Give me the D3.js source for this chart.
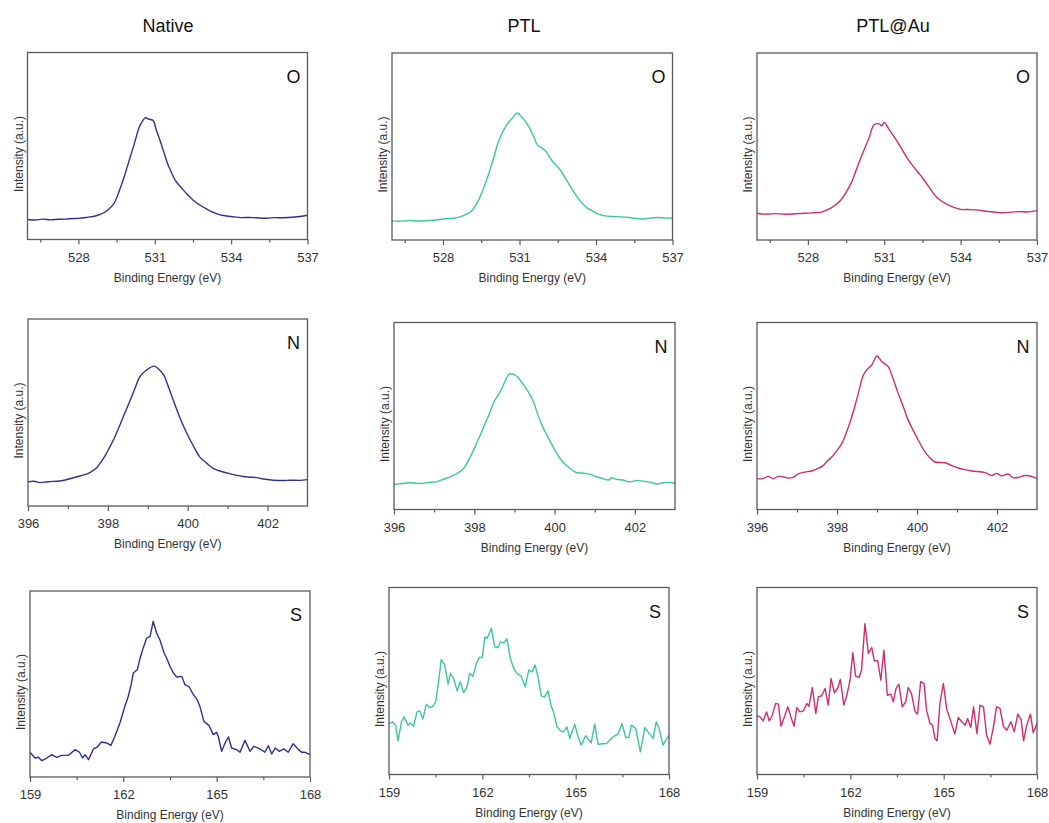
<!DOCTYPE html>
<html>
<head>
<meta charset="utf-8">
<title>XPS spectra</title>
<script src="https://d3js.org/d3.v7.min.js"></script>
<style>
  body { margin: 0; background: #fff; }
  svg { display: block; font-family: "Liberation Sans", Arial, sans-serif; }
  .frame { fill: none; stroke: #5a5a5a; stroke-width: 1.3px; }
  .axis path { display: none; }
  .axis line { stroke: #5a5a5a; stroke-width: 1.2px; }
  .axis text { font-size: 13px; fill: #333; }
  .xlabel, .ylabel { font-size: 12px; fill: #333; }
  .title { font-size: 18px; fill: #111; }
  .elem { font-size: 18px; fill: #111; }
  .spec { fill: none; stroke-width: 1.4px; stroke-linejoin: round; }
</style>
</head>
<body>
<div id="chart"></div>
<script>
// ---- data ----
var columns = ["Native", "PTL", "PTL@Au"];
var elements = ["O", "N", "S"];
var colors = ["#2e3192", "#3cc79a", "#cf2d6c"];

var xDomains = { O: [526, 537], N: [396, 403], S: [159, 168] };
var majorTicks = { O: [528, 531, 534, 537], N: [396, 398, 400, 402], S: [159, 162, 165, 168] };
var minorTicks = { O: [526.5, 529.5, 532.5, 535.5], N: [397, 399, 401], S: [160.5, 163.5, 166.5] };

// normalised intensity (a.u.) vs binding energy (eV)
var nativeO = [[526.0,0.107],[526.3,0.104],[526.6,0.109],[526.9,0.105],[527.2,0.108],[527.5,0.109],[527.8,0.112],[528.0,0.113],[528.3,0.118],[528.7,0.127],[529.0,0.143],[529.2,0.163],[529.4,0.193],[529.6,0.258],[529.8,0.336],[530.0,0.425],[530.2,0.514],[530.4,0.604],[530.55,0.640],[530.64,0.652],[530.72,0.645],[530.8,0.643],[530.94,0.636],[531.05,0.590],[531.2,0.532],[531.35,0.470],[531.5,0.407],[531.65,0.360],[531.8,0.318],[532.1,0.268],[532.3,0.238],[532.5,0.211],[532.75,0.186],[533.0,0.166],[533.25,0.148],[533.5,0.134],[533.8,0.126],[534.1,0.121],[534.4,0.117],[534.7,0.118],[535.0,0.116],[535.4,0.114],[535.7,0.117],[536.05,0.116],[536.5,0.120],[537.0,0.130]];
var ptlO = [[526.0,0.102],[526.3,0.100],[526.7,0.104],[527.0,0.102],[527.5,0.104],[527.8,0.108],[528.1,0.114],[528.4,0.116],[528.7,0.125],[529.1,0.152],[529.4,0.214],[529.6,0.280],[529.8,0.357],[530.0,0.445],[530.2,0.536],[530.5,0.616],[530.75,0.657],[530.9,0.679],[531.1,0.657],[531.25,0.630],[531.4,0.598],[531.55,0.555],[531.7,0.509],[532.0,0.479],[532.3,0.420],[532.6,0.375],[532.8,0.330],[533.0,0.286],[533.2,0.243],[533.4,0.205],[533.65,0.172],[533.9,0.152],[534.3,0.130],[534.8,0.125],[535.3,0.120],[535.8,0.112],[536.1,0.117],[536.4,0.120],[536.7,0.118],[537.0,0.116]];
var auO = [[526.0,0.143],[526.2,0.139],[526.45,0.139],[526.7,0.141],[527.1,0.138],[527.5,0.140],[527.9,0.143],[528.2,0.145],[528.5,0.148],[528.9,0.170],[529.3,0.214],[529.5,0.255],[529.7,0.304],[529.9,0.375],[530.1,0.446],[530.4,0.545],[530.6,0.616],[530.8,0.621],[530.9,0.611],[531.0,0.629],[531.2,0.589],[531.55,0.518],[531.9,0.438],[532.3,0.366],[532.5,0.333],[532.7,0.295],[533.1,0.223],[533.5,0.188],[534.0,0.164],[534.3,0.163],[534.6,0.161],[535.1,0.152],[535.6,0.146],[536.0,0.149],[536.3,0.152],[536.6,0.150],[537.0,0.157]];

var nativeN = [[396.0,0.129],[396.15,0.132],[396.3,0.125],[396.5,0.130],[396.8,0.134],[397.0,0.143],[397.2,0.155],[397.4,0.166],[397.55,0.179],[397.7,0.200],[397.8,0.227],[397.93,0.268],[398.05,0.316],[398.18,0.372],[398.3,0.432],[398.43,0.500],[398.56,0.566],[398.68,0.630],[398.8,0.691],[398.97,0.727],[399.16,0.748],[399.28,0.730],[399.4,0.700],[399.52,0.635],[399.64,0.566],[399.8,0.475],[399.98,0.388],[400.14,0.322],[400.3,0.263],[400.48,0.228],[400.65,0.200],[400.98,0.177],[401.3,0.161],[401.5,0.155],[401.73,0.152],[401.85,0.146],[402.15,0.138],[402.4,0.136],[402.57,0.138],[402.8,0.137],[403.0,0.141]];
var ptlN = [[396.0,0.134],[396.2,0.139],[396.4,0.143],[396.55,0.140],[396.7,0.139],[396.85,0.145],[397.05,0.148],[397.25,0.163],[397.4,0.175],[397.55,0.190],[397.7,0.211],[397.8,0.240],[397.9,0.282],[398.02,0.335],[398.13,0.389],[398.25,0.450],[398.38,0.514],[398.5,0.580],[398.6,0.613],[398.7,0.654],[398.8,0.700],[398.88,0.725],[399.05,0.714],[399.15,0.690],[399.26,0.657],[399.37,0.620],[399.47,0.577],[399.58,0.510],[399.7,0.443],[399.83,0.388],[399.96,0.336],[400.08,0.292],[400.2,0.255],[400.37,0.222],[400.54,0.198],[400.7,0.195],[400.87,0.189],[401.05,0.175],[401.2,0.166],[401.35,0.158],[401.42,0.170],[401.54,0.161],[401.7,0.158],[401.87,0.148],[402.05,0.155],[402.2,0.152],[402.4,0.145],[402.54,0.136],[402.7,0.143],[402.87,0.145],[403.0,0.139]];
var auN = [[396.0,0.165],[396.15,0.165],[396.28,0.177],[396.4,0.165],[396.53,0.177],[396.65,0.175],[396.78,0.168],[396.9,0.172],[397.03,0.191],[397.2,0.200],[397.37,0.206],[397.52,0.218],[397.66,0.236],[397.77,0.262],[397.87,0.281],[398.0,0.315],[398.12,0.352],[398.25,0.420],[398.37,0.496],[398.52,0.610],[398.66,0.719],[398.76,0.750],[398.87,0.773],[399.0,0.821],[399.12,0.791],[399.28,0.764],[399.4,0.700],[399.53,0.621],[399.66,0.548],[399.78,0.478],[399.99,0.388],[400.2,0.308],[400.33,0.275],[400.45,0.254],[400.7,0.250],[400.87,0.235],[401.03,0.222],[401.2,0.213],[401.37,0.206],[401.7,0.197],[401.87,0.182],[401.99,0.193],[402.12,0.179],[402.28,0.190],[402.4,0.170],[402.55,0.172],[402.7,0.182],[402.85,0.178],[403.0,0.165]];

var nativeS = [[159.00,0.133],[159.16,0.102],[159.27,0.106],[159.38,0.088],[159.54,0.102],[159.70,0.120],[159.86,0.106],[160.02,0.116],[160.23,0.116],[160.45,0.147],[160.59,0.133],[160.69,0.102],[160.77,0.120],[160.88,0.093],[161.04,0.151],[161.16,0.161],[161.30,0.188],[161.46,0.183],[161.60,0.170],[161.73,0.219],[161.89,0.290],[162.05,0.380],[162.16,0.434],[162.25,0.496],[162.32,0.559],[162.45,0.577],[162.54,0.640],[162.64,0.694],[162.75,0.747],[162.86,0.756],[162.96,0.837],[163.07,0.774],[163.18,0.735],[163.31,0.667],[163.39,0.640],[163.50,0.595],[163.61,0.559],[163.71,0.538],[163.88,0.541],[163.98,0.496],[164.12,0.484],[164.23,0.448],[164.36,0.419],[164.46,0.380],[164.59,0.299],[164.76,0.276],[164.89,0.228],[165.00,0.240],[165.05,0.219],[165.16,0.138],[165.27,0.183],[165.38,0.215],[165.48,0.156],[165.64,0.147],[165.75,0.133],[165.91,0.197],[166.07,0.138],[166.20,0.165],[166.39,0.151],[166.55,0.133],[166.66,0.168],[166.77,0.124],[166.88,0.156],[167.01,0.138],[167.16,0.151],[167.30,0.133],[167.46,0.179],[167.63,0.147],[167.73,0.133],[167.84,0.133],[168.00,0.120]];
var ptlS = [[159.00,0.269],[159.11,0.282],[159.21,0.264],[159.29,0.180],[159.40,0.282],[159.48,0.308],[159.61,0.264],[159.69,0.276],[159.79,0.258],[159.90,0.335],[159.99,0.340],[160.09,0.296],[160.20,0.376],[160.31,0.357],[160.41,0.365],[160.50,0.389],[160.58,0.478],[160.68,0.615],[160.79,0.585],[160.90,0.483],[160.97,0.540],[161.08,0.513],[161.19,0.447],[161.29,0.496],[161.40,0.437],[161.51,0.469],[161.59,0.540],[161.70,0.526],[161.81,0.594],[161.91,0.626],[162.00,0.626],[162.08,0.736],[162.15,0.727],[162.29,0.781],[162.40,0.683],[162.50,0.679],[162.58,0.709],[162.69,0.704],[162.79,0.727],[162.90,0.620],[163.01,0.567],[163.11,0.540],[163.25,0.526],[163.38,0.469],[163.49,0.558],[163.60,0.549],[163.70,0.585],[163.79,0.519],[163.90,0.419],[164.00,0.415],[164.11,0.447],[164.22,0.362],[164.29,0.335],[164.40,0.255],[164.51,0.234],[164.61,0.228],[164.72,0.255],[164.81,0.193],[164.97,0.269],[165.08,0.201],[165.18,0.157],[165.32,0.207],[165.50,0.169],[165.61,0.269],[165.72,0.162],[165.99,0.166],[166.20,0.201],[166.36,0.216],[166.49,0.273],[166.61,0.198],[166.71,0.198],[166.79,0.264],[166.93,0.246],[167.08,0.121],[167.22,0.251],[167.38,0.216],[167.49,0.193],[167.59,0.282],[167.68,0.246],[167.81,0.157],[168.00,0.210]];
var auS = [[159.00,0.314],[159.10,0.308],[159.20,0.287],[159.31,0.335],[159.39,0.287],[159.47,0.308],[159.60,0.380],[159.69,0.376],[159.77,0.258],[159.88,0.308],[159.99,0.362],[160.09,0.308],[160.19,0.258],[160.28,0.358],[160.38,0.335],[160.49,0.340],[160.60,0.380],[160.67,0.365],[160.78,0.465],[160.89,0.326],[160.97,0.415],[161.08,0.421],[161.19,0.460],[161.29,0.371],[161.38,0.513],[161.49,0.437],[161.59,0.460],[161.68,0.508],[161.79,0.371],[161.89,0.424],[161.99,0.504],[162.08,0.651],[162.17,0.526],[162.28,0.519],[162.36,0.558],[162.47,0.807],[162.58,0.647],[162.69,0.679],[162.77,0.608],[162.88,0.608],[162.98,0.504],[163.08,0.665],[163.19,0.424],[163.30,0.430],[163.38,0.389],[163.47,0.460],[163.56,0.483],[163.67,0.362],[163.78,0.389],[163.86,0.465],[163.97,0.430],[164.08,0.335],[164.16,0.323],[164.26,0.496],[164.37,0.487],[164.45,0.344],[164.56,0.273],[164.64,0.264],[164.72,0.193],[164.79,0.180],[164.88,0.380],[164.99,0.487],[165.10,0.348],[165.20,0.299],[165.36,0.216],[165.47,0.305],[165.58,0.282],[165.69,0.264],[165.77,0.299],[165.87,0.251],[165.96,0.362],[166.07,0.219],[166.17,0.371],[166.28,0.362],[166.38,0.210],[166.49,0.162],[166.60,0.255],[166.70,0.362],[166.81,0.353],[166.92,0.258],[167.03,0.237],[167.16,0.282],[167.27,0.228],[167.38,0.323],[167.49,0.294],[167.57,0.180],[167.67,0.264],[167.79,0.323],[167.88,0.223],[168.00,0.273]];

var spectra = [
  [nativeO, ptlO, auO],
  [nativeN, ptlN, auN],
  [nativeS, ptlS, auS]
];

// ---- layout: panel frames [left, top, width, height] per row / column ----
var frames = [
  [[27.5, 52.5, 280, 187], [392, 53, 280.5, 187], [757, 53, 280, 187]],
  [[28, 319, 279.5, 187], [394, 322.5, 281, 187], [757, 322.5, 280, 187]],
  [[30, 591, 280, 186], [389, 587.5, 280, 187], [757, 587.5, 280, 187]]
];
var titleX = [168, 524, 893];

var svg = d3.select('#chart').append('svg')
  .attr('width', 1049)
  .attr('height', 823);

columns.forEach(function (c, j) {
  svg.append('text')
    .attr('class', 'title')
    .attr('x', titleX[j])
    .attr('y', 32)
    .attr('text-anchor', 'middle')
    .text(c);
});

elements.forEach(function (el, i) {
  columns.forEach(function (c, j) {
    var f = frames[i][j];
    var w = f[2], h = f[3];
    var g = svg.append('g').attr('transform', 'translate(' + f[0] + ',' + f[1] + ')');

    var x = d3.scaleLinear().domain(xDomains[el]).range([0, w]);
    var y = d3.scaleLinear().domain([0, 1]).range([h, 0]);

    // minor ticks
    g.append('g')
      .attr('class', 'axis')
      .attr('transform', 'translate(0,' + h + ')')
      .call(d3.axisBottom(x).tickValues(minorTicks[el]).tickSize(3).tickSizeOuter(0).tickFormat(''));
    // major ticks
    g.append('g')
      .attr('class', 'axis')
      .attr('transform', 'translate(0,' + h + ')')
      .call(d3.axisBottom(x).tickValues(majorTicks[el]).tickSize(5).tickSizeOuter(0).tickPadding(8).tickFormat(d3.format('d')));

    // the O and N scans are smooth, the S scans are noisy point-to-point
    var line = d3.line()
      .curve(el === 'S' ? d3.curveLinear : d3.curveCatmullRom.alpha(0.5))
      .x(function (d) { return x(d[0]); })
      .y(function (d) { return y(d[1]); });

    g.append('path')
      .datum(spectra[i][j])
      .attr('class', 'spec')
      .attr('stroke', colors[j])
      .attr('d', line);

    g.append('rect')
      .attr('class', 'frame')
      .attr('width', w)
      .attr('height', h);

    g.append('text')
      .attr('class', 'elem')
      .attr('x', w - 14)
      .attr('y', 30)
      .attr('text-anchor', 'middle')
      .text(el);

    g.append('text')
      .attr('class', 'xlabel')
      .attr('x', w / 2)
      .attr('y', h + 42)
      .attr('text-anchor', 'middle')
      .text('Binding Energy (eV)');

    g.append('text')
      .attr('class', 'ylabel')
      .attr('transform', 'translate(-5,' + (h / 2 + 8) + ') rotate(-90)')
      .attr('text-anchor', 'middle')
      .text('Intensity (a.u.)');
  });
});
</script>
</body>
</html>
